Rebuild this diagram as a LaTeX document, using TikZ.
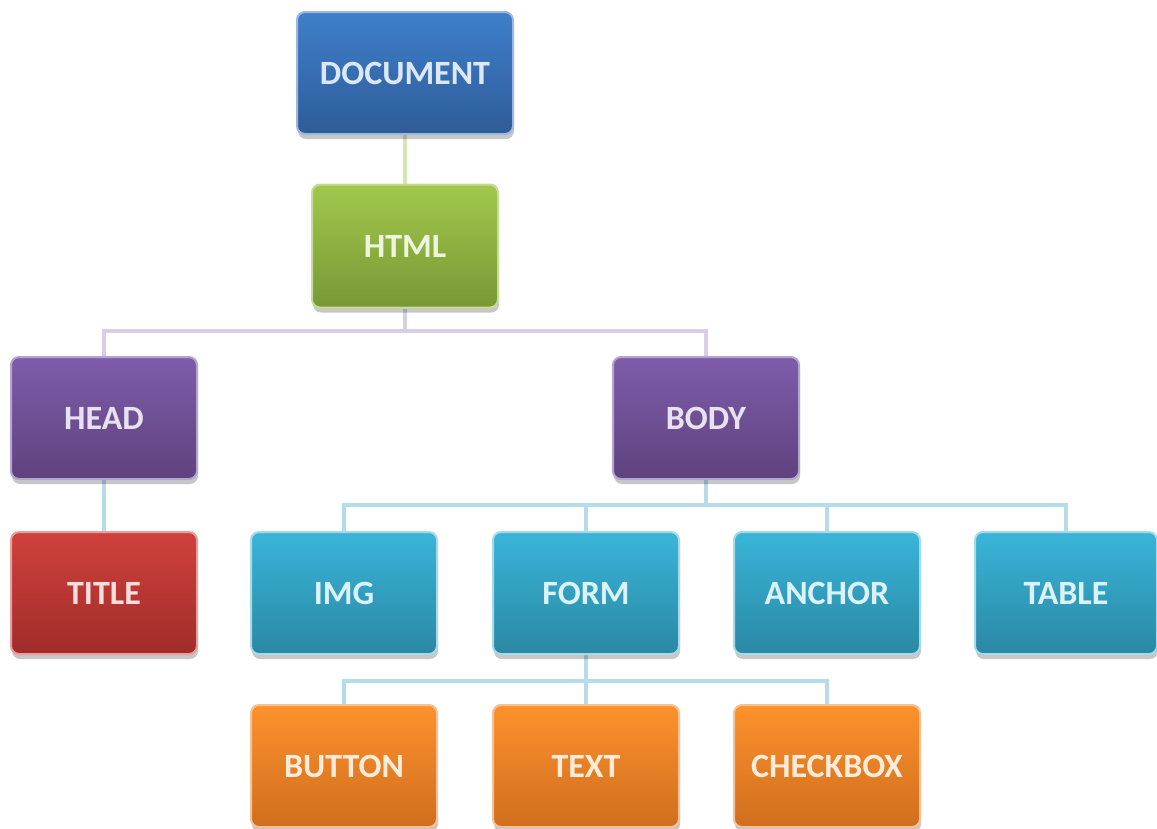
\documentclass[tikz,border=0pt]{standalone}
\usepackage{fontspec}
\setmainfont{Carlito}
\usetikzlibrary{shadows,backgrounds}
\definecolor{docT}{HTML}{3E7FCB}\definecolor{docB}{HTML}{2F5C98}\definecolor{docL}{HTML}{9DB8DB}
\definecolor{grnT}{HTML}{A2C74C}\definecolor{grnB}{HTML}{789835}\definecolor{grnL}{HTML}{C6DC96}
\definecolor{purT}{HTML}{7E5CAA}\definecolor{purB}{HTML}{5E437E}\definecolor{purL}{HTML}{B6A3CF}
\definecolor{redT}{HTML}{D0413C}\definecolor{redB}{HTML}{A02C29}\definecolor{redL}{HTML}{E5A09D}
\definecolor{cyaT}{HTML}{39B5D9}\definecolor{cyaB}{HTML}{2A88A4}\definecolor{cyaL}{HTML}{A6D9E9}
\definecolor{orgT}{HTML}{FD922C}\definecolor{orgB}{HTML}{D06E1E}\definecolor{orgL}{HTML}{F6C196}
\definecolor{lnG}{HTML}{D6E6B3}\definecolor{lnP}{HTML}{DACEE5}\definecolor{lnB}{HTML}{B5DCE8}
\tikzset{
  box/.style n args={3}{rounded corners=8pt, draw=#3, line width=2pt,
    top color=#1, bottom color=#2, minimum width=186pt, minimum height=122pt,
    text=white!82!#1, font=\fontsize{34}{34}\selectfont\bfseries, inner sep=0pt,
    drop shadow={shadow xshift=1pt, shadow yshift=-5pt, opacity=0.22, fill=black}},
  conn/.style={line width=4pt, draw=#1}
}
\begin{document}
\begin{tikzpicture}[x=1pt,y=-1pt]
\useasboundingbox (0,0) rectangle (1157,828);
\node[box={docT}{docB}{docL}, minimum width=216pt, minimum height=122pt] (doc) at (405,73) {DOCUMENT};
\node[box={grnT}{grnB}{grnL}, minimum width=186pt, minimum height=123pt] (html) at (405,246) {HTML};
\node[box={purT}{purB}{purL}] (head) at (104,418) {HEAD};
\node[box={purT}{purB}{purL}] (body) at (706,418) {BODY};
\node[box={redT}{redB}{redL}] (title) at (104,593) {TITLE};
\node[box={cyaT}{cyaB}{cyaL}] (img) at (344,593) {IMG};
\node[box={cyaT}{cyaB}{cyaL}] (form) at (586,593) {FORM};
\node[box={cyaT}{cyaB}{cyaL}] (anchor) at (827,593) {ANCHOR};
\node[box={cyaT}{cyaB}{cyaL}, minimum width=182pt] (table) at (1066,593) {TABLE};
\node[box={orgT}{orgB}{orgL}] (button) at (344,766) {BUTTON};
\node[box={orgT}{orgB}{orgL}] (text) at (586,766) {TEXT};
\node[box={orgT}{orgB}{orgL}] (checkbox) at (827,766) {CHECKBOX};
\coordinate (j1) at (405,331);
\coordinate (j2) at (706,505);
\coordinate (j3) at (586,681);
\begin{scope}[on background layer]
\draw[conn=lnG] (doc.south) -- (html.north);
\draw[conn=lnP] (html.south) -- (j1);
\draw[conn=lnP] (head.north) |- (j1) -| (body.north);
\draw[conn=lnB] (head.south) -- (title.north);
\draw[conn=lnB] (body.south) -- (j2);
\draw[conn=lnB] (img.north) |- (j2) -| (table.north);
\draw[conn=lnB] (form.north) |- (j2);
\draw[conn=lnB] (anchor.north) |- (j2);
\draw[conn=lnB] (form.south) -- (text.north);
\draw[conn=lnB] (button.north) |- (j3) -| (checkbox.north);
\end{scope}
\end{tikzpicture}
\end{document}
